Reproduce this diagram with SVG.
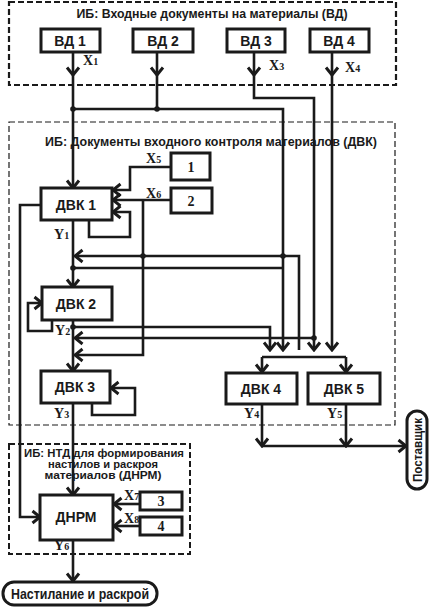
<svg xmlns="http://www.w3.org/2000/svg" width="429" height="608" viewBox="0 0 429 608">
<style>
.bg{fill:#fff}
.box{fill:#fff;stroke:#1a1a1a;stroke-width:3}
.grp{fill:none;stroke:#1a1a1a;stroke-dasharray:6 3}
.ln{fill:none;stroke:#1a1a1a;stroke-width:2.6;stroke-linejoin:miter}
.ar{marker-end:url(#arr)}
.dot{fill:#1a1a1a}
.t{font-family:"Liberation Sans",Arial,sans-serif;font-weight:bold;fill:#1a1a1a}
.lbl{font-family:"Liberation Sans",Arial,sans-serif;font-weight:bold;font-size:14px;fill:#1a1a1a;text-anchor:middle}
.num{font-family:"Liberation Serif","Times New Roman",serif;font-weight:bold;font-size:14px;fill:#1a1a1a;text-anchor:middle}
.xy{font-family:"Liberation Serif","Times New Roman",serif;font-weight:bold;font-size:14px;fill:#1a1a1a}
.sub{font-size:10px}
</style>
<defs>
<marker id="arr" viewBox="-10 -8 12 16" refX="0" refY="0" markerWidth="12" markerHeight="16" markerUnits="userSpaceOnUse" orient="auto">
<path d="M-7.5,-6 L0,0 L-7.5,6" fill="none" stroke="#1a1a1a" stroke-width="3"/>
</marker>
</defs>
<rect class="bg" x="0" y="0" width="429" height="608"/>

<g id="groups">
<rect class="grp" x="9" y="2" width="387" height="83" style="stroke-width:2.2"/>
<text class="t" x="212" y="18" font-size="12" text-anchor="middle" textLength="271" lengthAdjust="spacingAndGlyphs">ИБ: Входные документы на материалы (ВД)</text>
<rect class="grp" x="9" y="122" width="386" height="303" style="stroke-width:1.2"/>
<text class="t" x="45" y="146" font-size="12" textLength="332" lengthAdjust="spacingAndGlyphs">ИБ:  Документы входного контроля материалов (ДВК)</text>
<rect class="grp" x="9" y="444" width="181" height="110" style="stroke-width:2"/>
<text class="t" x="104" y="457" font-size="11.5" text-anchor="middle" textLength="160" lengthAdjust="spacingAndGlyphs">ИБ: НТД для формирования</text>
<text class="t" x="103" y="468" font-size="11.5" text-anchor="middle" textLength="110" lengthAdjust="spacingAndGlyphs">настилов и раскроя</text>
<text class="t" x="103" y="479" font-size="11.5" text-anchor="middle" textLength="117" lengthAdjust="spacingAndGlyphs">материалов (ДНРМ)</text>
</g>

<g id="connectors">
<path class="ln ar" d="M73,52 V75"/>
<path class="ln ar" d="M73,75 V188"/>
<path class="ln ar" d="M157,52 V75"/>
<path class="ln" d="M157,75 V109"/>
<path class="ln ar" d="M73,109 H283 V350"/>
<path class="ln ar" d="M254,52 V75"/>
<path class="ln ar" d="M254,75 V98 H314 V350"/>
<path class="ln ar" d="M332,52 V75"/>
<path class="ln ar" d="M332,75 V350"/>
<path class="ln ar" d="M299,350 V256 H75"/>
<path class="ln" d="M73,268 H283"/>
<path class="ln ar" d="M73,220 V287"/>
<path class="ln ar" d="M171,167 H130 V190 H113"/>
<path class="ln ar" d="M171,200 H113"/>
<path class="ln ar" d="M143,200 V355 H75"/>
<path class="ln ar" d="M89,220 V237 H130 V212 H113"/>
<path class="ln ar" d="M41,205 H20 V517 H40"/>
<path class="ln ar" d="M52,320 V331 H28 V303 H42"/>
<path class="ln ar" d="M73,320 V371"/>
<path class="ln ar" d="M73,327 H270 V350"/>
<path class="ln ar" d="M314,338 H75"/>
<path class="ln ar" d="M92,403 V415 H135 V388 H111"/>
<path class="ln ar" d="M73,403 V495"/>
<path class="ln" d="M262,357 H346"/>
<path class="ln ar" d="M262,357 V372"/>
<path class="ln ar" d="M346,357 V372"/>
<path class="ln ar" d="M262,404 V446"/>
<path class="ln ar" d="M346,404 V446"/>
<path class="ln ar" d="M262,446 H406"/>
<path class="ln ar" d="M140,504 H114"/>
<path class="ln ar" d="M140,526 H114"/>
<path class="ln ar" d="M73,540 V581"/>
<circle class="dot" cx="73" cy="109" r="2.8"/>
<circle class="dot" cx="157" cy="109" r="2.8"/>
<circle class="dot" cx="143" cy="256" r="2.8"/>
<circle class="dot" cx="283" cy="256" r="2.8"/>
<circle class="dot" cx="73" cy="268" r="2.8"/>
<circle class="dot" cx="73" cy="327" r="2.8"/>
<circle class="dot" cx="314" cy="338" r="2.8"/>
</g>

<g id="labels">
<text class="xy" x="83" y="65">X<tspan class="sub">1</tspan></text>
<text class="xy" x="269" y="70">X<tspan class="sub">3</tspan></text>
<text class="xy" x="345" y="72">X<tspan class="sub">4</tspan></text>
<text class="xy" x="146" y="163">X<tspan class="sub">5</tspan></text>
<text class="xy" x="146" y="198">X<tspan class="sub">6</tspan></text>
<text class="xy" x="54" y="239">Y<tspan class="sub">1</tspan></text>
<text class="xy" x="55" y="335">Y<tspan class="sub">2</tspan></text>
<text class="xy" x="54" y="418">Y<tspan class="sub">3</tspan></text>
<text class="xy" x="244" y="418">Y<tspan class="sub">4</tspan></text>
<text class="xy" x="327" y="418">Y<tspan class="sub">5</tspan></text>
<text class="xy" x="124" y="500">X<tspan class="sub">7</tspan></text>
<text class="xy" x="124" y="523">X<tspan class="sub">8</tspan></text>
<text class="xy" x="54" y="550">Y<tspan class="sub">6</tspan></text>
</g>

<g id="vd1"><rect class="box" x="41" y="29" width="59" height="23"/><text class="lbl" x="70" y="46">ВД 1</text></g>
<g id="vd2"><rect class="box" x="133" y="29" width="60" height="23"/><text class="lbl" x="163" y="46">ВД 2</text></g>
<g id="vd3"><rect class="box" x="227" y="29" width="58" height="23"/><text class="lbl" x="256" y="46">ВД 3</text></g>
<g id="vd4"><rect class="box" x="310" y="29" width="59" height="23"/><text class="lbl" x="339" y="46">ВД 4</text></g>

<g id="dvk1"><rect class="box" x="41" y="188" width="71" height="32"/><text class="lbl" x="76" y="210">ДВК 1</text></g>
<g id="dvk2"><rect class="box" x="42" y="287" width="70" height="33"/><text class="lbl" x="76" y="309">ДВК 2</text></g>
<g id="dvk3"><rect class="box" x="41" y="371" width="69" height="32"/><text class="lbl" x="75" y="392">ДВК 3</text></g>
<g id="dvk4"><rect class="box" x="226" y="373" width="71" height="31"/><text class="lbl" x="261" y="394">ДВК 4</text></g>
<g id="dvk5"><rect class="box" x="308" y="373" width="72" height="31"/><text class="lbl" x="344" y="394">ДВК 5</text></g>

<g id="n1"><rect class="box" x="171" y="153" width="39" height="27"/><text class="num" x="191" y="172">1</text></g>
<g id="n2"><rect class="box" x="171" y="188" width="41" height="25"/><text class="num" x="191" y="206">2</text></g>
<g id="n3"><rect class="box" x="140" y="492" width="42" height="18"/><text class="num" x="161" y="506">3</text></g>
<g id="n4"><rect class="box" x="140" y="517" width="42" height="18"/><text class="num" x="161" y="531">4</text></g>

<g id="dnrm"><rect class="box" x="40" y="495" width="73" height="45"/><text class="lbl" x="76" y="522">ДНРМ</text></g>

<g id="nastil"><rect class="box" x="3" y="582" width="154" height="23" rx="11"/><text class="t" x="80" y="599" font-size="14" text-anchor="middle" textLength="138" lengthAdjust="spacingAndGlyphs">Настилание и раскрой</text></g>

<g id="postavshik"><rect class="box" x="407" y="411" width="20" height="78" rx="10"/><text class="t" transform="translate(422,450) rotate(-90)" x="0" y="0" font-size="13" text-anchor="middle" textLength="64" lengthAdjust="spacingAndGlyphs">Поставщик</text></g>
</svg>
